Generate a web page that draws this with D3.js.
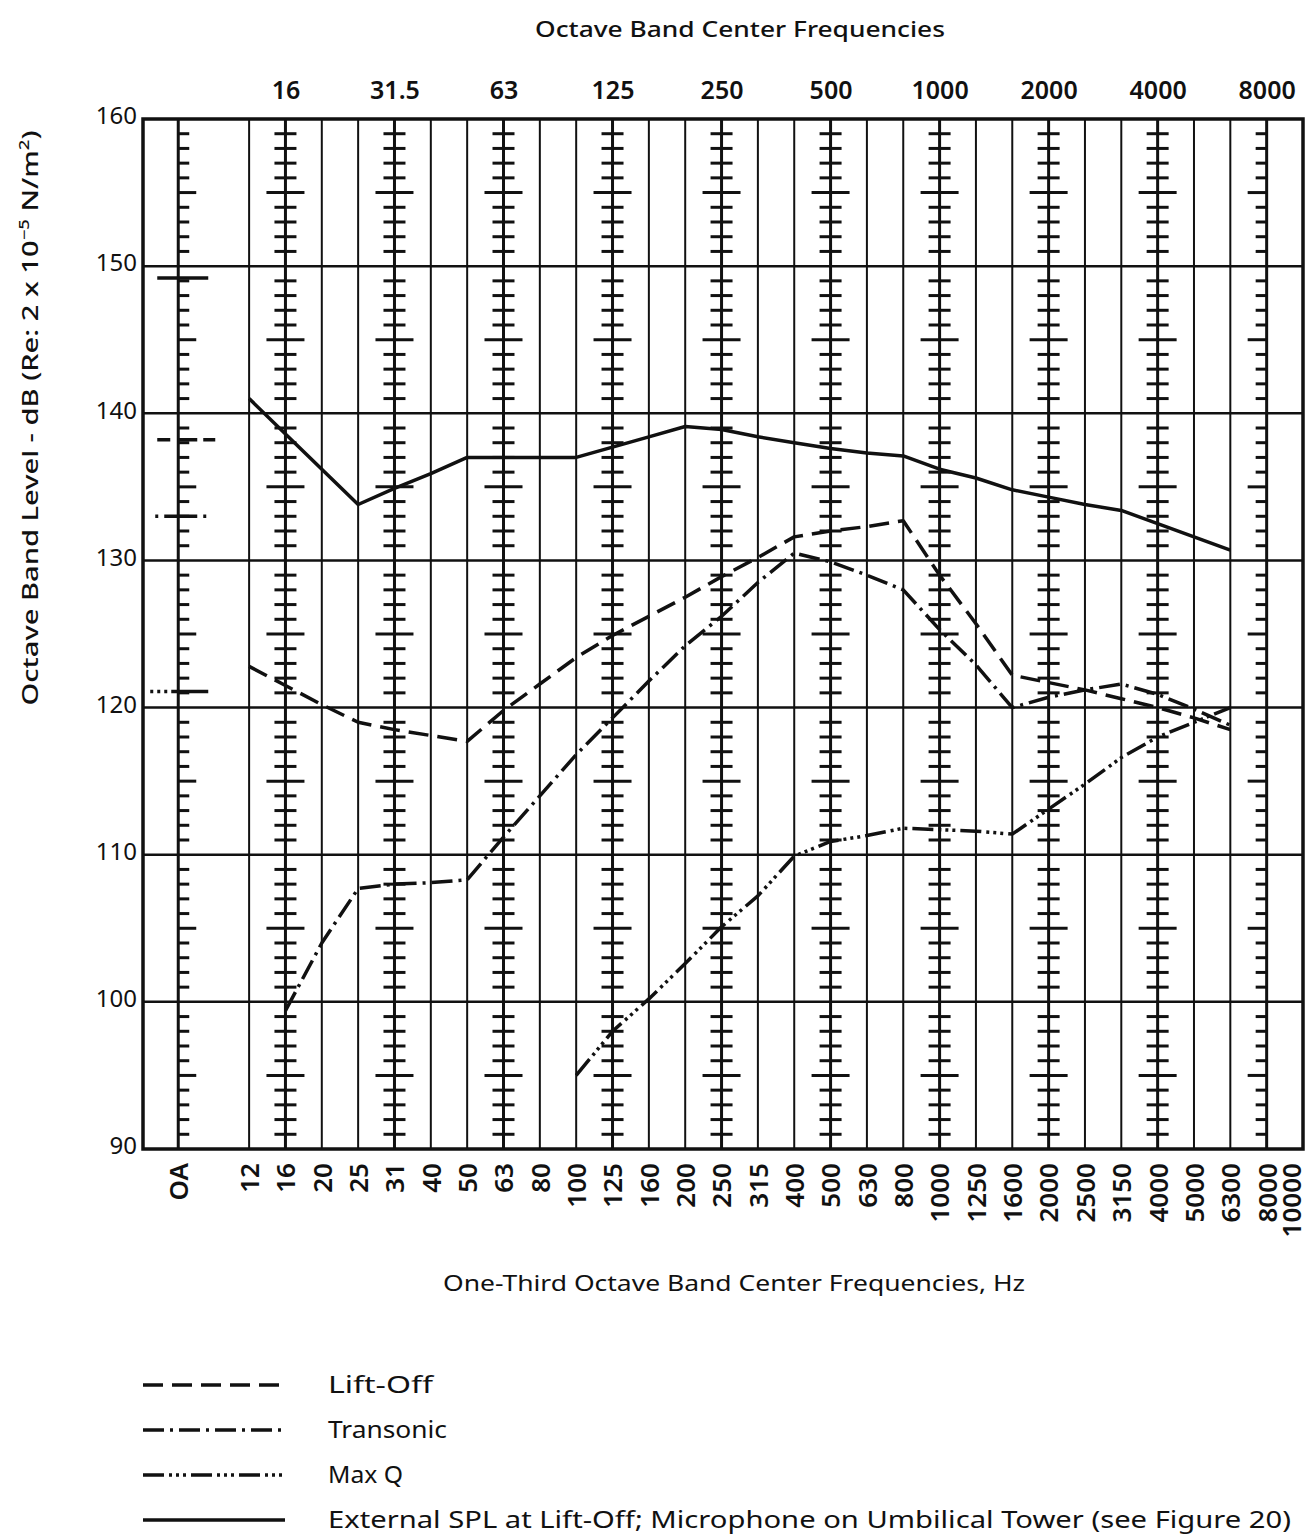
<!DOCTYPE html>
<html>
<head>
<meta charset="utf-8">
<script src="https://cdn.jsdelivr.net/npm/d3@7"></script>
<style>
  body { margin: 0; background: #fff; }
  text { font-family: "Noto Sans", "DejaVu Sans", sans-serif; fill: #111; }
</style>
</head>
<body>
<div id="chart-container"></div>
<script>
// one-third octave band centres along the bottom (Hz)
const bands = [12, 16, 20, 25, 31.5, 40, 50, 63, 80, 100, 125, 160, 200, 250, 315, 400, 500, 630,
  800, 1000, 1250, 1600, 2000, 2500, 3150, 4000, 5000, 6300, 8000, 10000];
const bandLabels = ["12", "16", "20", "25", "31", "40", "50", "63", "80", "100", "125", "160", "200",
  "250", "315", "400", "500", "630", "800", "1000", "1250", "1600", "2000", "2500", "3150", "4000",
  "5000", "6300", "8000", "10000"];
// octave band centres along the top
const octaveLabels = ["16", "31.5", "63", "125", "250", "500", "1000", "2000", "4000", "8000"];
const yTicks = [90, 100, 110, 120, 130, 140, 150, 160];

// levels in dB, one per band from 12 Hz to 6300 Hz (null = not measured)
const liftOff = [122.8, 121.5, 120.2, 119.0, 118.5, 118.1, 117.7, 119.8, 121.6, 123.4, 124.9, 126.2,
  127.5, 128.9, 130.2, 131.6, 132.0, 132.3, 132.7, 129.0, 125.7, 122.2, 121.7, 121.2, 120.6, 120.0,
  119.3, 118.5];
const transonic = [null, 99.4, 104.0, 107.7, 108.0, 108.1, 108.3, 111.2, 114.0, 116.8, 119.3, 121.8,
  124.2, 126.2, 128.5, 130.5, 129.9, 129.0, 128.0, 125.3, 122.9, 120.0, 120.7, 121.2, 121.6, 120.9,
  119.9, 118.8];
const maxQ = [null, null, null, null, null, null, null, null, null, 95.0, 98.0, 100.2, 102.6, 105.1,
  107.2, 109.9, 110.9, 111.3, 111.8, 111.7, 111.6, 111.4, 113.1, 114.8, 116.6, 118.0, 119.0, 120.0];
const externalSpl = [141.0, 138.6, 136.2, 133.8, 134.9, 135.9, 137.0, 137.0, 137.0, 137.0, 137.7,
  138.4, 139.1, 138.9, 138.4, 138.0, 137.6, 137.3, 137.1, 136.2, 135.6, 134.8, 134.3, 133.8, 133.4,
  132.5, 131.6, 130.7];
// overall (OA) levels, same order as the series
const overallLevels = [138.2, 133.0, 121.1, 149.2];
const seriesNames = ["Lift-Off", "Transonic", "Max Q",
  "External SPL at Lift-Off; Microphone on Umbilical Tower (see Figure 20)"];

const svgWidth = 1314;
const svgHeight = 1537;
const plot = { left: 143, top: 119, right: 1303, bottom: 1149 };
const OA = -1.95; // position of the overall column, in band steps

const svg = d3.select("#chart-container")
  .append("svg")
  .attr("width", svgWidth)
  .attr("height", svgHeight);

const x = d3.scaleLinear().domain([-2.92, bands.length - 1]).range([plot.left, plot.right]);
const y = d3.scaleLinear().domain([90, 160]).range([plot.bottom, plot.top]);

// line styles, same order as series
const styles = [
  { dash: "20,9", oaDash: "13,7,20,6,14", oa: [-21, 37] },
  { dash: "21,6,3,6", oaDash: "3,6,33,6,3", oa: [-23, 29] },
  { dash: "21,5,3,4,3,4,3,5", oaDash: "3,4,3,4,3,4,40", oa: [-28, 30] },
  { dash: null, oaDash: null, oa: [-21, 30] }
];

const grid = svg.append("g").attr("stroke", "#111").attr("fill", "none");

// horizontal 10 dB lines
grid.selectAll(".hline")
  .data(yTicks.slice(1, -1))
  .join("line")
  .attr("x1", plot.left).attr("x2", plot.right)
  .attr("y1", d => y(d)).attr("y2", d => y(d))
  .attr("stroke-width", 2.5);

// vertical band lines
const octaveIdx = octaveLabels.map(l => bands.indexOf(+l));
grid.selectAll(".vline")
  .data(d3.range(bands.length - 1))
  .join("line")
  .attr("x1", d => x(d)).attr("x2", d => x(d))
  .attr("y1", plot.top).attr("y2", plot.bottom)
  .attr("stroke-width", d => octaveIdx.includes(d) ? 3 : 2);

// OA column line
grid.append("line")
  .attr("x1", x(OA)).attr("x2", x(OA))
  .attr("y1", plot.top).attr("y2", plot.bottom)
  .attr("stroke-width", 3);

// 1 dB ticks on the octave columns (OA ticks right, 8000 ticks left)
const dbTicks = d3.range(91, 160).filter(v => v % 10 !== 0);
const tickCols = [{ i: OA, side: 1 }].concat(octaveIdx.map(i => ({ i: i, side: bands[i] === 8000 ? -1 : 0 })));
tickCols.forEach(col => {
  grid.selectAll(null)
    .data(dbTicks)
    .join("line")
    .attr("x1", v => {
      const h = v % 5 === 0 ? 19 : 11;
      return col.side === 1 ? x(col.i) : x(col.i) - h;
    })
    .attr("x2", v => {
      const h = col.side === 1 ? (v % 5 === 0 ? 18 : 11) : (v % 5 === 0 ? 19 : 11);
      return col.side === -1 ? x(col.i) : x(col.i) + h;
    })
    .attr("y1", v => y(v)).attr("y2", v => y(v))
    .attr("stroke-width", 3);
});

// frame
svg.append("rect")
  .attr("x", plot.left).attr("y", plot.top)
  .attr("width", plot.right - plot.left).attr("height", plot.bottom - plot.top)
  .attr("fill", "none").attr("stroke", "#111").attr("stroke-width", 3.5);

// curves
const allSeries = [liftOff, transonic, maxQ, externalSpl];
const line = d3.line()
  .defined(d => d.v !== null)
  .x(d => x(d.i))
  .y(d => y(d.v));

allSeries.forEach((vals, k) => {
  svg.append("path")
    .datum(vals.map((v, i) => ({ i: i, v: v })))
    .attr("d", line)
    .attr("fill", "none")
    .attr("stroke", "#111")
    .attr("stroke-width", 3.5)
    .attr("stroke-linejoin", "round")
    .attr("stroke-dasharray", styles[k].dash);

  // overall level marker on the OA column
  svg.append("line")
    .attr("x1", x(OA) + styles[k].oa[0]).attr("x2", x(OA) + styles[k].oa[1])
    .attr("y1", y(overallLevels[k])).attr("y2", y(overallLevels[k]))
    .attr("stroke", "#111").attr("stroke-width", 3.5)
    .attr("stroke-dasharray", styles[k].oaDash);
});

// axes
const leftAxis = svg.append("g")
  .attr("transform", `translate(${plot.left},0)`)
  .call(d3.axisLeft(y).tickValues(yTicks).tickSize(0).tickPadding(6));
leftAxis.select(".domain").remove();
leftAxis.selectAll("text").attr("font-size", 24).attr("dy", "0.2em").attr("font-family", null);

const topAxis = svg.append("g")
  .attr("transform", `translate(0,${plot.top})`)
  .call(d3.axisTop(x).tickValues(octaveIdx).tickFormat((d, i) => octaveLabels[i]).tickSize(0).tickPadding(20));
topAxis.select(".domain").remove();
topAxis.selectAll("text").attr("font-size", 25).attr("font-weight", 600).attr("font-family", null);

const bottomAxis = svg.append("g")
  .attr("transform", `translate(0,${plot.bottom})`)
  .call(d3.axisBottom(x)
    .tickValues([OA].concat(d3.range(bands.length)))
    .tickFormat(d => d === OA ? "OA" : bandLabels[d])
    .tickSize(0));
bottomAxis.select(".domain").remove();
bottomAxis.selectAll("text")
  .attr("transform", "rotate(-90)")
  .attr("text-anchor", "end")
  .attr("x", -14).attr("y", 0)
  // last label sits on the page edge, nudge it in a little
  .attr("dy", d => d === bands.length - 1 ? "-0.08em" : "0.36em")
  .attr("font-size", 26).attr("font-weight", 600).attr("font-family", null);

// titles
svg.append("text")
  .text("Octave Band Center Frequencies")
  .attr("x", 740).attr("y", 37)
  .attr("text-anchor", "middle")
  .attr("font-size", 22).attr("font-weight", 500)
  .attr("textLength", 410).attr("lengthAdjust", "spacingAndGlyphs");

svg.append("text")
  .text("One-Third Octave Band Center Frequencies, Hz")
  .attr("x", 734).attr("y", 1291)
  .attr("text-anchor", "middle")
  .attr("font-size", 22)
  .attr("textLength", 582).attr("lengthAdjust", "spacingAndGlyphs");

const yTitle = svg.append("text")
  .attr("transform", "translate(38,418) rotate(-90)")
  .attr("text-anchor", "middle")
  .attr("font-size", 22).attr("font-weight", 500)
  .attr("textLength", 575).attr("lengthAdjust", "spacingAndGlyphs");
yTitle.append("tspan").text("Octave Band Level - dB (Re: 2 x 10");
yTitle.append("tspan").text("\u22125").attr("font-size", 14).attr("baseline-shift", "super");
yTitle.append("tspan").text(" N/m");
yTitle.append("tspan").text("2").attr("font-size", 14).attr("baseline-shift", "super");
yTitle.append("tspan").text(")");

// legend
const legendWidths = [105, 119, 75, 963];
const legend = svg.append("g");
seriesNames.forEach((name, k) => {
  const ly = 1385 + k * 45;
  legend.append("line")
    .attr("x1", 143).attr("x2", 285)
    .attr("y1", ly).attr("y2", ly)
    .attr("stroke", "#111").attr("stroke-width", 3.5)
    .attr("stroke-dasharray", styles[k].dash);
  legend.append("text")
    .text(name)
    .attr("x", 328).attr("y", ly + 8)
    .attr("font-size", 23)
    .attr("textLength", legendWidths[k]).attr("lengthAdjust", "spacingAndGlyphs");
});
</script>
</body>
</html>
